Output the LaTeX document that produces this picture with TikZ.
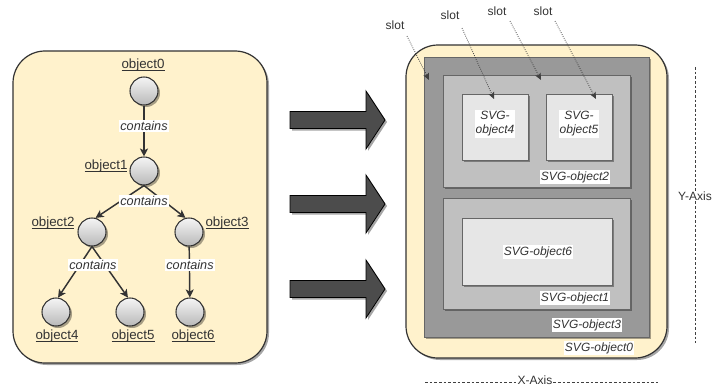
\documentclass[tikz,border=0pt]{standalone}
\usepackage{fontspec}
\setmainfont{Liberation Sans}
\usetikzlibrary{shadows,arrows.meta}
\definecolor{panel}{HTML}{FFF2CC}
\definecolor{ink}{HTML}{333333}
\definecolor{lvl3}{HTML}{999999}
\definecolor{lvl2}{HTML}{C0C0C0}
\definecolor{lvl1}{HTML}{E6E6E6}
% underline placed just below the baseline
\newcommand{\objul}[1]{\setbox0\hbox{#1}\rlap{\rule[-1.4pt]{\wd0}{0.55pt}}\box0}
\tikzset{
  softshadow/.style={drop shadow={shadow xshift=1.5pt,shadow yshift=-1.5pt,fill=black,opacity=0.35}},
  panelbox/.style={draw=ink,line width=0.9pt,fill=panel,rounded corners=24pt,softshadow},
  ball/.style={circle,draw=ink,line width=0.8pt,minimum size=21pt,inner sep=0pt,
    top color=gray!8,bottom color=gray!55,softshadow},
  objname/.style={font=\fontsize{10}{12}\selectfont,text=ink,inner sep=1pt},
  rel/.style={draw=ink,line width=1.1pt,-{Stealth[length=6pt,width=6pt,inset=1.5pt]}},
  rellabel/.style={font=\fontsize{9.5}{11}\selectfont\itshape,text=ink,fill=white,inner sep=0.8pt},
  bigarrow/.style={draw=black,line width=0.6pt,fill=black!70,softshadow},
  svgbox/.style={draw=black!60,line width=0.6pt,softshadow},
  svglabel/.style={font=\fontsize{9}{10.5}\selectfont\itshape,text=ink,fill=white,inner sep=0.8pt},
  slotlabel/.style={font=\fontsize{9}{10.5}\selectfont,text=ink,inner sep=1pt},
  slotarrow/.style={draw=black!75,line width=0.6pt,densely dotted,
    -{Stealth[length=5pt,width=4.5pt,inset=1pt]}},
  axisline/.style={draw=black!75,line width=0.6pt,dash pattern=on 2pt off 1.5pt},
  axislabel/.style={font=\fontsize{9}{10.5}\selectfont,text=ink,fill=white,inner sep=0.5pt},
}
\begin{document}
\begin{tikzpicture}[x=0.75pt,y=-0.75pt]
\useasboundingbox (0,0) rectangle (713,385);

% ---------- object tree ----------
\path[panelbox] (13,51) rectangle (267,363);

\node[ball] (o0) at (144,91) {};
\node[ball] (o1) at (144,171) {};
\node[ball] (o2) at (92,232) {};
\node[ball] (o3) at (189,232) {};
\node[ball] (o4) at (56,312) {};
\node[ball] (o5) at (130,312) {};
\node[ball] (o6) at (190,312) {};

\node[objname] (n0) at (143,65) {\objul{object0}};
\node[objname] (n1) at (106,166) {\objul{object1}};
\node[objname] (n2) at (53,223) {\objul{object2}};
\node[objname] (n3) at (227,223) {\objul{object3}};
\node[objname] (n4) at (57,336) {\objul{object4}};
\node[objname] (n5) at (133,336) {\objul{object5}};
\node[objname] (n6) at (193,336) {\objul{object6}};

\draw[rel] (o0) -- (o1);
\draw[rel] (o1.south) -- (o2.76);
\draw[rel] (o1.south) -- (o3.104);
\draw[rel] (o2.south) -- (o4.82);
\draw[rel] (o2.south) -- (o5.98);
\draw[rel] (o3) -- (o6);

\node[rellabel] (c01) at (144,126) {contains};
\node[rellabel] (c1) at (144,201) {contains};
\node[rellabel] (c2) at (93,265) {contains};
\node[rellabel] (c3) at (190,265) {contains};

% ---------- mapping arrows ----------
\foreach \cy in {120,204,289}{
  \path[bigarrow] (290,\cy-8.5) -- (366,\cy-8.5) -- (366,\cy-29) -- (385,\cy)
    -- (366,\cy+29) -- (366,\cy+8.5) -- (290,\cy+8.5) -- cycle;
}

% ---------- nested SVG objects ----------
\path[panelbox] (406,45) rectangle (667,358);
\path[svgbox,fill=lvl3] (424,57) rectangle (649,337);
\path[svgbox,fill=lvl2] (443,75) rectangle (630,187);
\path[svgbox,fill=lvl1] (462,94) rectangle (528,160);
\path[svgbox,fill=lvl1] (546,94) rectangle (612,160);
\path[svgbox,fill=lvl2] (443,198) rectangle (630,309);
\path[svgbox,fill=lvl1] (462,218) rectangle (612,285);

\node[svglabel,align=center] (s4) at (495,124) {SVG-\\object4};
\node[svglabel,align=center] (s5) at (579,124) {SVG-\\object5};
\node[svglabel] (s6) at (538,252) {SVG-object6};
\node[svglabel] (s2) at (575,177) {SVG-object2};
\node[svglabel] (s1) at (575,298) {SVG-object1};
\node[svglabel] (s3) at (587,325) {SVG-object3};
\node[svglabel] (s0) at (599,348) {SVG-object0};

% slot markers
\node[slotlabel] (t0) at (395,25) {slot};
\node[slotlabel] (t1) at (450,15) {slot};
\node[slotlabel] (t2) at (497,11) {slot};
\node[slotlabel] (t3) at (543,11) {slot};
\coordinate (p0) at (429,80);
\coordinate (p1) at (494,99);
\coordinate (p2) at (541,80);
\coordinate (p3) at (596,99);
\draw[slotarrow] (407,36) -- (p0);
\draw[slotarrow] (462,28) -- (p1);
\draw[slotarrow] (510,21) -- (p2);
\draw[slotarrow] (555,21) -- (p3);

% axes
\coordinate (ytop) at (695,67);
\coordinate (ybot) at (695,343);
\node[axislabel] (ya) at (695,196) {Y-Axis};
\draw[axisline] (ytop) -- (ya.north);
\draw[axisline] (ya.south) -- (ybot);
\coordinate (xl) at (425,382);
\coordinate (xr) at (658,382);
\node[axislabel] (xa) at (535,380) {X-Axis};
\draw[axisline] (xl) -- (xa.west |- xl);
\draw[axisline] (xa.east |- xr) -- (xr);
\end{tikzpicture}
\end{document}
